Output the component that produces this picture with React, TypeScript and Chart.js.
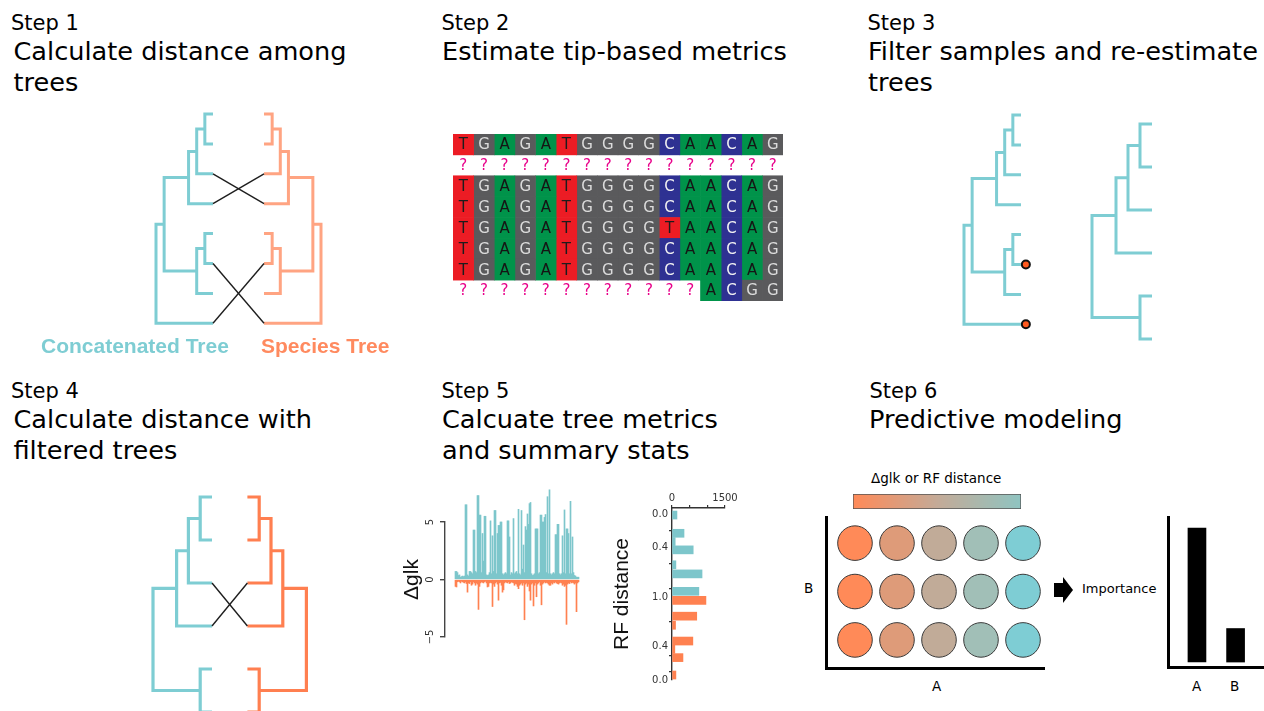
import React, { useEffect, useRef } from "react";
import { Chart, registerables } from "chart.js";
Chart.register(...registerables);

// ---------------- DATA ----------------
// Trees: [node id, child A, child B, depth]; tips are "t<row>"
const tree8Nodes: [string, string, string, number][] = [
  ["n4", "t0", "t1", 6],
  ["n3", "n4", "t2", 5],
  ["n2", "n3", "t3", 4],
  ["n6", "t4", "t5", 6],
  ["n5", "n6", "t6", 5],
  ["n1", "n2", "n5", 1],
  ["root", "n1", "t7", 0],
];
const tree8TipDepth = 7;
const tree8Crossings = [[2, 3], [3, 2], [5, 7], [7, 5]];
const removedTips = [5, 7];

const tree6Nodes: [string, string, string, number][] = [
  ["m4", "t0", "t1", 4],
  ["m3", "m4", "t2", 3],
  ["m2", "m3", "t3", 2],
  ["m5", "t4", "t5", 4],
  ["mr", "m2", "m5", 0],
];
const tree6TipDepth = 5;
const tree6Crossings = [[2, 3], [3, 2]];

// Alignment
const alignmentRows = [
  "TGAGATGGGGCAACAG",
  "????????????????",
  "TGAGATGGGGCAACAG",
  "TGAGATGGGGCAACAG",
  "TGAGATGGGGTAACAG",
  "TGAGATGGGGCAACAG",
  "TGAGATGGGGCAACAG",
  "????????????ACGG",
];

// Delta glk per locus
const glkPositive = [
  0.7, 0.7, 0.6, 0.35, 0.4, 0.2, 0.25, 0.3, 0.25, 0.3,
  6.5, 6.5, 0.4, 0.3, 0.7, 0.7, 0.6, 0.5, 4.3, 4.3,
  0.7, 0.6, 7.3, 7.3, 5.6, 5.6, 0.6, 4.0, 1.6, 5.5,
  5.5, 0.4, 0.35, 0.4, 0.6, 5.1, 0.5, 3.8, 0.7, 6.0,
  6.0, 0.5, 4.0, 4.7, 4.7, 5.0, 5.0, 0.5, 0.4, 0.5,
  0.6, 0.5, 5.1, 5.1, 3.7, 0.4, 0.6, 0.5, 5.3, 0.5,
  0.6, 0.7, 0.5, 6.1, 0.5, 0.4, 6.0, 0.9, 3.0, 0.6,
  4.6, 4.3, 5.7, 4.8, 6.6, 6.7, 0.5, 0.35, 0.4, 0.5,
  4.4, 4.4, 4.4, 0.5, 0.6, 5.6, 5.6, 5.0, 5.0, 5.4,
  5.65, 0.6, 7.2, 0.5, 7.8, 0.5, 0.4, 0.5, 0.6, 0.5,
  3.9, 3.9, 4.8, 4.8, 0.5, 0.4, 0.5, 3.8, 0.6, 6.05,
  0.5, 4.4, 4.4, 4.0, 0.5, 6.8, 0.5, 3.7, 0.6, 0.35,
  0.3, 0.2, 0.2, 0.2,
];
const glkNegative = [
  -0.6, -0.65, -0.2, -0.15, -0.2, -0.3, -0.15, -0.2, -0.25, -0.3,
  -0.2, -0.35, -1.1, -0.3, -0.35, -0.2, -0.5, -0.4, -0.2, -0.3,
  -0.5, -0.3, -0.4, -2.6, -0.6, -0.3, -0.2, -0.25, -0.3, -0.2,
  -0.15, -0.3, -0.65, -0.6, -0.3, -0.25, -0.3, -2.35, -0.4, -0.6,
  -0.3, -0.2, -0.4, -1.8, -0.3, -0.25, -0.5, -1.1, -0.9, -0.3,
  -0.2, -0.25, -0.3, -0.2, -0.35, -0.3, -0.2, -0.25, -0.3, -0.5,
  -0.35, -0.4, -0.6, -0.8, -0.5, -0.4, -0.3, -0.5, -0.3, -3.5,
  -0.4, -0.3, -0.6, -0.4, -1.0, -1.8, -0.4, -0.3, -2.3, -0.5,
  -0.3, -1.5, -0.4, -0.3, -0.2, -0.5, -2.2, -0.4, -0.3, -0.2,
  -0.3, -0.25, -0.3, -0.4, -0.5, -0.5, -0.3, -0.4, -0.25, -0.3,
  -0.2, -0.3, -0.35, -0.4, -0.3, -0.25, -0.3, -0.5, -0.4, -0.6,
  -0.5, -3.9, -0.4, -0.3, -0.35, -0.2, -0.3, -0.25, -0.3, -0.4,
  -0.3, -2.8, -0.3, -0.2,
];
const glkTicks = [-5, 0, 5];

// RF distance histogram (upper: concatenated, lower: species)
const rfUpperValues = [0.01, 0.23, 0.33, 0.43, 0.61, 0.72, 0.93];
const rfUpperCounts = [140, 340, 90, 600, 110, 850, 760];
const rfLowerValues = [0.96, 0.77, 0.66, 0.47, 0.37, 0.27, 0.06];
const rfLowerCounts = [960, 700, 100, 590, 80, 310, 110];
const rfTickValues = [0, 0.4, 0.8, 1.0, 1.6, 1.8, 2.0];
const rfTickLabels = ["0.0", "0.4", "", "1.0", "0.4", "", "0.0"];
const countTickValues = [0, 500, 1000, 1500];
const countTickLabels = ["0", "", "", "1500"];

// Predictive modelling
const gridA = [1, 2, 3, 4, 5];
const gridB = [1, 2, 3];
const gridColors = ["#ff8a58", "#de9b79", "#c1ab98", "#a1bfb7", "#7ecdd4"];
const colorbarStops = ["#ff8a58", "#c4aa97", "#8fc4c1"];
const importanceLabels = ["A", "B"];
const importanceValues = [1.0, 0.25];

// ---------------- STYLE ----------------
const TEAL = "#7ecdd3";
const SALMON = "#ffa482";
const CORAL = "#ff7f50";
const BAR_TEAL = "#7dc6cb";
const BAR_ORANGE = "#ff8150";
const CELL_BG: Record<string, string> = { T: "#ec1c24", G: "#5a5a5c", A: "#00934a", C: "#2e3192", "?": "rgba(0,0,0,0)" };
const CELL_FG: Record<string, string> = { T: "#1c1c1c", G: "#dcdcdc", A: "#151515", C: "#f2f2f2", "?": "#e8008a" };

// ---------------- helpers ----------------
type Pt = { x: number; y: number };
function layoutTree(nodes: [string, string, string, number][], tipDepth: number): Pt[][] {
  const pos: Record<string, Pt> = {};
  const get = (id: string): Pt => (id.startsWith("t") ? { x: tipDepth, y: Number(id.slice(1)) } : pos[id]);
  const paths: Pt[][] = [];
  for (const [id, a, b, depth] of nodes) {
    const pa = get(a);
    const pb = get(b);
    pos[id] = { x: depth, y: (pa.y + pb.y) / 2 };
    paths.push([{ x: pa.x, y: pa.y }, { x: depth, y: pa.y }, { x: depth, y: pb.y }, { x: pb.x, y: pb.y }]);
  }
  return paths;
}
const mirror = (paths: Pt[][], d: number) => paths.map((p) => p.map((q) => ({ x: d - q.x, y: q.y })));
const span = (startPx: number, endPx: number, originPx: number, unitPx: number) => ({
  min: (startPx - originPx) / unitPx,
  max: (endPx - originPx) / unitPx,
});
const lineDs = (data: Pt[], color: string, width: number, extra: any = {}) => ({
  data,
  showLine: true,
  borderColor: color,
  borderWidth: width,
  pointRadius: 0,
  fill: false,
  tension: 0,
  borderJoinStyle: "miter",
  borderCapStyle: "butt",
  ...extra,
});
const baseOpts = {
  responsive: true,
  maintainAspectRatio: false,
  animation: false,
  events: [],
  plugins: { legend: { display: false }, tooltip: { enabled: false }, title: { display: false } },
};
const pad = (p: any) => ({ autoPadding: false, padding: p });
const hidden = (o: any) => ({ type: "linear", display: false, offset: false, ...o });

// ---------------- chart configs ----------------
function step1Config(): any {
  const d = 20.27;
  const concat = layoutTree(tree8Nodes, tree8TipDepth);
  const species = mirror(concat, d);
  const cross = tree8Crossings.map(([a, b]) => [
    { x: tree8TipDepth, y: a },
    { x: d - tree8TipDepth, y: b },
  ]);
  return {
    type: "scatter",
    data: {
      datasets: [
        ...cross.map((c) => lineDs(c, "#1e1e1e", 1.4)),
        ...concat.map((p) => lineDs(p, TEAL, 3)),
        ...species.map((p) => lineDs(p, SALMON, 3)),
      ],
    },
    options: {
      ...baseOpts,
      layout: pad(0),
      scales: {
        x: hidden(span(136, 340, 156, 8.14)),
        y: hidden({ ...span(100, 340, 114, 29.9), reverse: true }),
      },
    },
  };
}

function step3Config(): any {
  const left = layoutTree(tree8Nodes, tree8TipDepth);
  const right = layoutTree(tree6Nodes, tree6TipDepth);
  return {
    type: "scatter",
    data: {
      datasets: [
        ...left.map((p) => lineDs(p, TEAL, 3, { xAxisID: "xL", yAxisID: "yL" })),
        ...right.map((p) => lineDs(p, TEAL, 3, { xAxisID: "xR", yAxisID: "yR" })),
        {
          data: removedTips.map((r) => ({ x: 7.6, y: r })),
          xAxisID: "xL",
          yAxisID: "yL",
          pointRadius: 4,
          pointBorderWidth: 2,
          pointBorderColor: "#111",
          pointBackgroundColor: "#ff5a1f",
          showLine: false,
        },
      ],
    },
    options: {
      ...baseOpts,
      layout: pad(0),
      scales: {
        xL: hidden({ ...span(950, 1164, 964, 8.14), position: "bottom" }),
        yL: hidden({ ...span(100, 350, 115, 29.9), reverse: true, position: "left" }),
        xR: hidden({ ...span(950, 1164, 1092, 12), position: "bottom" }),
        yR: hidden({ ...span(100, 350, 124, 43), reverse: true, position: "left" }),
      },
    },
  };
}

function step4Config(): any {
  const d = 13;
  const teal = layoutTree(tree6Nodes, tree6TipDepth);
  const coral = mirror(teal, d);
  const cross = tree6Crossings.map(([a, b]) => [
    { x: tree6TipDepth, y: a },
    { x: d - tree6TipDepth, y: b },
  ]);
  return {
    type: "scatter",
    data: {
      datasets: [
        ...cross.map((c) => lineDs(c, "#1e1e1e", 1.4)),
        ...teal.map((p) => lineDs(p, TEAL, 3.2)),
        ...coral.map((p) => lineDs(p, CORAL, 3.2)),
      ],
    },
    options: {
      ...baseOpts,
      layout: pad(0),
      scales: {
        x: hidden(span(140, 320, 153, 11.8)),
        y: hidden({ ...span(480, 711, 497, 43), reverse: true }),
      },
    },
  };
}

const letterPlugin = {
  id: "letters",
  afterDatasetsDraw(chart: any) {
    const c = chart.ctx;
    c.save();
    c.font = "15px 'DejaVu Sans'";
    c.textAlign = "center";
    c.textBaseline = "middle";
    chart.data.datasets.forEach((_: any, col: number) => {
      const meta = chart.getDatasetMeta(col);
      meta.data.forEach((el: any, row: number) => {
        const ch = alignmentRows[row][col];
        c.fillStyle = CELL_FG[ch];
        c.fillText(ch, (el.x + el.base) / 2, el.y + 1);
      });
    });
    c.restore();
  },
};

function step2Config(): any {
  const cols = alignmentRows[0].length;
  const datasets = [];
  for (let col = 0; col < cols; col++) {
    datasets.push({
      data: alignmentRows.map(() => 1),
      backgroundColor: alignmentRows.map((r) => CELL_BG[r[col]]),
      borderWidth: 0,
      barPercentage: 1,
      categoryPercentage: 1,
    });
  }
  return {
    type: "bar",
    data: { labels: alignmentRows.map((_, i) => "r" + i), datasets },
    options: {
      ...baseOpts,
      indexAxis: "y",
      layout: pad(0),
      scales: {
        x: { type: "linear", display: false, stacked: true, min: 0, max: cols },
        y: { display: false, stacked: true },
      },
    },
    plugins: [letterPlugin],
  };
}

const rotatedTicksPlugin = {
  id: "rotTicks",
  afterDraw(chart: any) {
    const s = chart.scales.y;
    const c = chart.ctx;
    c.save();
    c.font = "10px 'DejaVu Sans'";
    c.fillStyle = "#333";
    c.textAlign = "center";
    c.textBaseline = "middle";
    glkTicks.forEach((v) => {
      const y = s.getPixelForValue(v);
      c.save();
      c.translate(s.right - 15, y);
      c.rotate(-Math.PI / 2);
      c.fillText(v < 0 ? "\u2212" + Math.abs(v) : String(v), 0, 0);
      c.restore();
    });
    c.restore();
  },
};

function glkConfig(): any {
  const idx = glkPositive.map((_, i) => i);
  return {
    type: "bar",
    data: {
      datasets: [
        { data: idx.map((i) => ({ x: i, y: glkPositive[i] })), backgroundColor: BAR_TEAL },
        { data: idx.map((i) => ({ x: i, y: glkNegative[i] })), backgroundColor: BAR_ORANGE },
      ].map((d) => ({ ...d, barPercentage: 1, categoryPercentage: 1, grouped: false, clip: false, borderWidth: 0 })),
    },
    options: {
      ...baseOpts,
      layout: pad({ top: 37, bottom: 10, right: 2, left: 0 }),
      scales: {
        x: { type: "linear", display: false, offset: false, min: -10.5, max: 123.5 },
        y: {
          type: "linear",
          min: -5,
          max: 5,
          afterBuildTicks: (a: any) => {
            a.ticks = glkTicks.map((v) => ({ value: v }));
          },
          afterFit: (a: any) => {
            a.width = 45;
          },
          ticks: { display: false },
          grid: { drawOnChartArea: false, tickLength: 5, color: "#444", lineWidth: 1.4 },
          border: { display: true, color: "#444", width: 1.4 },
          title: {
            display: true,
            text: "\u0394glk",
            color: "#111",
            font: { family: "'Liberation Sans'", size: 21 },
            padding: 0,
          },
        },
      },
    },
    plugins: [rotatedTicksPlugin],
  };
}

function rfConfig(): any {
  return {
    type: "bar",
    data: {
      datasets: [
        { data: rfUpperValues.map((v, i) => ({ y: v, x: rfUpperCounts[i] })), backgroundColor: BAR_TEAL },
        { data: rfLowerValues.map((v, i) => ({ y: 2 - v, x: rfLowerCounts[i] })), backgroundColor: BAR_ORANGE },
      ].map((d) => ({ ...d, barThickness: 8, grouped: false, borderWidth: 0 })),
    },
    options: {
      ...baseOpts,
      indexAxis: "y",
      layout: pad({ top: 0, bottom: 8, right: 15, left: 0 }),
      scales: {
        y: {
          type: "linear",
          position: "left",
          reverse: true,
          offset: false,
          min: -0.075,
          max: 2.0,
          afterBuildTicks: (a: any) => {
            a.ticks = rfTickValues.map((v) => ({ value: v }));
          },
          afterFit: (a: any) => {
            a.width = 62;
          },
          ticks: {
            callback: (_v: any, i: number) => rfTickLabels[i],
            font: { family: "'DejaVu Sans'", size: 10 },
            color: "#333",
            padding: 1,
            autoSkip: false,
          },
          grid: { drawOnChartArea: false, tickLength: 3, color: "#333", lineWidth: 1.2 },
          border: { display: true, color: "#333", width: 1.4 },
          title: {
            display: true,
            text: "RF distance",
            color: "#111",
            font: { family: "'Liberation Sans'", size: 21 },
            padding: 0,
          },
        },
        x: {
          type: "linear",
          position: "top",
          min: 0,
          max: 1500,
          afterBuildTicks: (a: any) => {
            a.ticks = countTickValues.map((v) => ({ value: v }));
          },
          afterFit: (a: any) => {
            a.height = 16;
          },
          ticks: {
            callback: (_v: any, i: number) => countTickLabels[i],
            font: { family: "'DejaVu Sans'", size: 10 },
            color: "#333",
            padding: 1,
            maxRotation: 0,
            autoSkip: false,
          },
          grid: { drawOnChartArea: false, tickLength: 3, color: "#333", lineWidth: 1.2 },
          border: { display: true, color: "#333", width: 1.4 },
        },
      },
    },
  };
}

function colorbarConfig(): any {
  return {
    type: "bar",
    data: {
      labels: ["scale"],
      datasets: [
        {
          data: [1],
          barPercentage: 1,
          categoryPercentage: 1,
          borderWidth: 1,
          borderColor: "#555",
          borderSkipped: false,
          backgroundColor: (ctx: any) => {
            const { chart } = ctx;
            const area = chart.chartArea;
            if (!area) return colorbarStops[0];
            const g = chart.ctx.createLinearGradient(area.left, 0, area.right, 0);
            colorbarStops.forEach((c, i) => g.addColorStop(i / (colorbarStops.length - 1), c));
            return g;
          },
        },
      ],
    },
    options: {
      ...baseOpts,
      indexAxis: "y",
      layout: pad(2),
      scales: { x: { type: "linear", display: false, min: 0, max: 1 }, y: { display: false } },
    },
  };
}

const lAxis = (o: any, isX: boolean) => ({
  type: "linear",
  offset: false,
  ...o,
  ticks: { display: false },
  grid: { display: false, drawTicks: false },
  border: { display: true, color: "#000", width: 3 },
  afterFit: (a: any) => {
    if (isX) a.height = 0;
    else a.width = 0;
  },
});

function gridConfig(): any {
  const pts: Pt[] = [];
  const cols: string[] = [];
  gridB.forEach((b) =>
    gridA.forEach((a, i) => {
      pts.push({ x: a, y: b });
      cols.push(gridColors[i]);
    })
  );
  return {
    type: "scatter",
    data: {
      datasets: [
        {
          data: pts,
          pointRadius: 17.3,
          pointBackgroundColor: cols,
          pointBorderColor: "#3a3a3a",
          pointBorderWidth: 1,
        },
      ],
    },
    options: {
      ...baseOpts,
      layout: pad(4),
      scales: { x: lAxis({ min: 0.31, max: 5.5 }, true), y: lAxis({ min: 0.42, max: 3.54 }, false) },
    },
  };
}

function importanceConfig(): any {
  return {
    type: "bar",
    data: {
      datasets: [
        {
          data: importanceValues.map((v, i) => ({ x: i + 1, y: v, label: importanceLabels[i] })),
          backgroundColor: "#000",
          barThickness: 18,
          borderWidth: 0,
        },
      ],
    },
    options: {
      ...baseOpts,
      layout: pad({ left: 4, top: 4, right: 1, bottom: 4 }),
      scales: { x: lAxis({ min: 0.25, max: 2.71 }, true), y: lAxis({ min: -0.037, max: 1.082 }, false) },
    },
  };
}

// ---------------- components ----------------
function ChartBox({ box, make }: { box: number[]; make: () => any }) {
  const ref = useRef<HTMLCanvasElement>(null);
  useEffect(() => {
    const chart = new Chart(ref.current as HTMLCanvasElement, make());
    return () => chart.destroy();
  }, []);
  return (
    <div style={{ position: "absolute", left: box[0], top: box[1], width: box[2], height: box[3] }}>
      <canvas ref={ref} />
    </div>
  );
}

function Text({
  t,
  x,
  y,
  size,
  family = "'DejaVu Sans'",
  weight = 400,
  color = "#000",
}: {
  t: string;
  x: number;
  y: number;
  size: number;
  family?: string;
  weight?: number;
  color?: string;
}) {
  return (
    <div
      style={{
        position: "absolute",
        left: x,
        top: y,
        fontSize: size,
        lineHeight: `${size}px`,
        fontFamily: family,
        fontWeight: weight,
        color,
        whiteSpace: "nowrap",
      }}
    >
      {t}
    </div>
  );
}

export default function App() {
  const R2 = 368;
  return (
    <div
      style={{
        position: "fixed",
        left: 0,
        top: 0,
        width: 1264,
        height: 711,
        background: "#fff",
        overflow: "hidden",
      }}
    >
      {/* Headings */}
      <Text t="Step 1" x={11} y={13} size={21} />
      <Text t="Calculate distance among" x={13.5} y={39.3} size={25.6} />
      <Text t="trees" x={13.5} y={70.3} size={25.6} />
      <Text t="Step 2" x={441.5} y={13} size={21} />
      <Text t="Estimate tip-based metrics" x={442} y={39.3} size={25.6} />
      <Text t="Step 3" x={867.5} y={13} size={21} />
      <Text t="Filter samples and re-estimate" x={868} y={39.3} size={25.6} />
      <Text t="trees" x={868} y={70.3} size={25.6} />
      <Text t="Step 4" x={11} y={13 + R2} size={21} />
      <Text t="Calculate distance with" x={13.5} y={39.3 + R2} size={25.6} />
      <Text t="filtered trees" x={13.5} y={70.3 + R2} size={25.6} />
      <Text t="Step 5" x={441.5} y={13 + R2} size={21} />
      <Text t="Calcuate tree metrics" x={442} y={39.3 + R2} size={25.6} />
      <Text t="and summary stats" x={442} y={70.3 + R2} size={25.6} />
      <Text t="Step 6" x={869.5} y={13 + R2} size={21} />
      <Text t="Predictive modeling" x={869} y={39.3 + R2} size={25.6} />

      {/* Step 1 */}
      <ChartBox box={[136, 100, 204, 240]} make={step1Config} />
      <Text t="Concatenated Tree" x={41} y={335} size={21} family="'Liberation Sans'" weight={700} color={TEAL} />
      <Text t="Species Tree" x={261} y={335} size={21} family="'Liberation Sans'" weight={700} color="#ff8a5f" />

      {/* Step 2 */}
      <ChartBox box={[453, 134, 330, 167]} make={step2Config} />

      {/* Step 3 */}
      <ChartBox box={[950, 100, 214, 250]} make={step3Config} />

      {/* Step 4 */}
      <ChartBox box={[140, 480, 180, 231]} make={step4Config} />

      {/* Step 5 */}
      <ChartBox box={[400, 485, 181, 162]} make={glkConfig} />
      <ChartBox box={[610, 492, 130, 196]} make={rfConfig} />

      {/* Step 6 */}
      <Text t={"\u0394glk or RF distance"} x={871} y={471.5} size={13.5} />
      <ChartBox box={[851, 492, 172, 19]} make={colorbarConfig} />
      <ChartBox box={[822, 513, 226, 159]} make={gridConfig} />
      <Text t="B" x={804} y={581.5} size={13.5} />
      <Text t="A" x={932} y={679.5} size={13.5} />
      <div style={{ position: "absolute", left: 1054, top: 583, width: 10, height: 14, background: "#000" }} />
      <div
        style={{
          position: "absolute",
          left: 1063,
          top: 577,
          width: 0,
          height: 0,
          borderLeft: "10px solid #000",
          borderTop: "13px solid transparent",
          borderBottom: "13px solid transparent",
        }}
      />
      <Text t="Importance" x={1082} y={581.5} size={13} />
      <ChartBox box={[1164, 513, 100, 158]} make={importanceConfig} />
      <Text t="A" x={1192} y={679.5} size={13.5} />
      <Text t="B" x={1230} y={679.5} size={13.5} />
    </div>
  );
}
